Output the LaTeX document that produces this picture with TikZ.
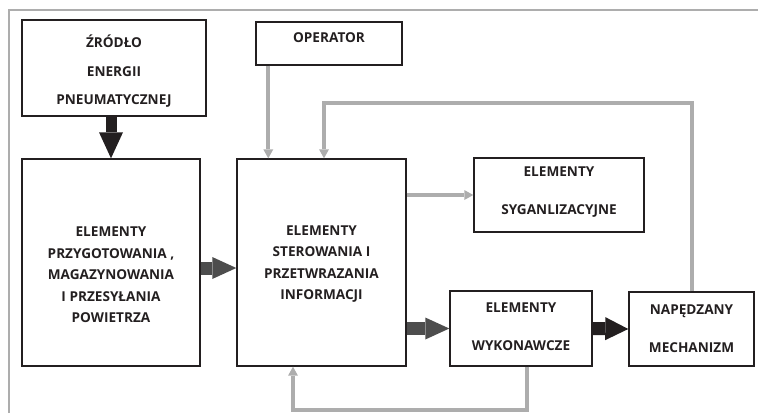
\documentclass[tikz,border=0pt]{standalone}
\usepackage{fontspec}
\setmainfont{Open Sans}
\usetikzlibrary{arrows.meta}
\definecolor{szary}{HTML}{ADADAD}
\definecolor{grafit}{HTML}{4D4D4D}
\definecolor{czern}{HTML}{231F20}
\tikzset{
  blok/.style={draw=czern, line width=1.4pt, inner sep=0pt},
  opis/.style={font=\bfseries\fontsize{13.6}{#1}\selectfont, align=center, text=czern},
  opis/.default=21.5,
  sygnal/.style={draw=szary, line width=4pt, -{Triangle[length=9pt,width=10pt,line width=0pt]}},
  zasilanie/.style={draw=czern, line width=11pt, -{Triangle[length=26pt,width=24pt,line width=0pt]}},
  przeplyw/.style={draw=grafit, line width=13pt, -{Triangle[length=24pt,width=22pt,line width=0pt]}},
  naped/.style={draw=czern, line width=13pt, -{Triangle[length=23pt,width=23pt,line width=0pt]}},
  ramka/.style={draw=szary, line width=1.5pt}
}
\begin{document}
\begin{tikzpicture}[x=1pt,y=-1pt]
        \useasboundingbox (0,0) rectangle (758,413);
        %ramka
        \draw[ramka] (9,413) -- (9,10) -- (758,10);
        %bloki
        \node[blok, minimum width=184pt, minimum height=96pt,
          label={[opis=28.5, yshift=-3.5pt]center:{ŹRÓDŁO\\ENERGII\\PNEUMATYCZNEJ}}] (zrodlo) at (114,68) {};
        \node[blok, minimum width=146pt, minimum height=43pt,
          label={[opis, yshift=5.5pt]center:{OPERATOR}}] (operator) at (329,43.5) {};
        \node[blok, minimum width=178pt, minimum height=207pt,
          label={[opis, yshift=-12.5pt]center:{ELEMENTY\\PRZYGOTOWANIA ,\\MAGAZYNOWANIA\\I PRZESYŁANIA\\POWIETRZA}}] (przygotowanie) at (111,262.5) {};
        \node[blok, minimum width=169pt, minimum height=207pt,
          label={[opis, yshift=-1.5pt]center:{ELEMENTY\\STEROWANIA I\\PRZETWRAZANIA\\INFORMACJI}}] (sterowanie) at (321.5,262.5) {};
        \node[blok, minimum width=170pt, minimum height=74pt,
          label={[opis=38, yshift=3pt]center:{ELEMENTY\\SYGANLIZACYJNE}}] (sygnalizacja) at (559,195) {};
        \node[blok, minimum width=142pt, minimum height=75pt,
          label={[opis=38, yshift=1.5pt]center:{ELEMENTY\\WYKONAWCZE}}] (wykonawcze) at (521,328.5) {};
        \node[blok, minimum width=125pt, minimum height=74pt,
          label={[opis=38]center:{NAPĘDZANY\\MECHANIZM}}] (napedzany) at (691.5,329) {};
        %strzalki grube
        \draw[zasilanie] (zrodlo.south -| przygotowanie.north) -- (przygotowanie.north);
        \draw[przeplyw] ([yshift=-5.5pt]przygotowanie.east) -- ([yshift=-5.5pt]przygotowanie.east -| sterowanie.west);
        \draw[przeplyw] (sterowanie.east |- wykonawcze.west) -- (wykonawcze.west);
        \draw[naped] (wykonawcze.east) -- (napedzany.west);
        %sygnaly
        \coordinate (gora) at (324,103);
        \coordinate (dol) at (293,410);
        \draw[sygnal] ([xshift=13pt]operator.south west) -- ([xshift=13pt]operator.south west |- sterowanie.north);
        \draw[sygnal] (sterowanie.east |- sygnalizacja.west) -- (sygnalizacja.west);
        \draw[sygnal] (napedzany.north) |- (gora) -- (gora |- sterowanie.north);
        \draw[sygnal] ([xshift=6pt]wykonawcze.south) |- (dol) -- (dol |- sterowanie.south);
\end{tikzpicture}
\end{document}
